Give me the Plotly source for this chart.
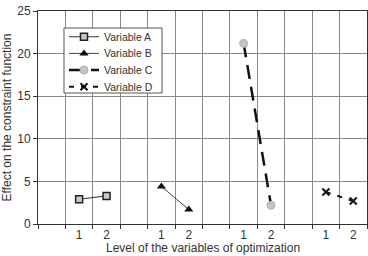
import plotly.graph_objects as go

# Data
level_labels = ["1", "2", "1", "2", "1", "2", "1", "2"]
level_positions = [1, 2, 4, 5, 7, 8, 10, 11]
series_names = ["Variable A", "Variable B", "Variable C", "Variable D"]
var_a = [2.9, 3.3]
var_b = [4.4, 1.7]
var_c = [21.2, 2.2]
var_d = [3.75, 2.7]
y_ticks = [0, 5, 10, 15, 20, 25]
x_title = "Level of the variables of optimization"
y_title = "Effect on the constraint function"

X_RANGE = [-0.5, 11.5]
GRID = "#8a8a8a"
AX = "#333333"
TXT = "#333333"

fig = go.Figure()

fig.add_trace(go.Scatter(
    x=level_positions[0:2], y=var_a, name=series_names[0], mode="lines+markers",
    legend="legend",
    line=dict(color="#333333", width=1),
    marker=dict(symbol="square", size=7, color="#c8c8c8", line=dict(color="#222222", width=1.5))))
fig.add_trace(go.Scatter(
    x=level_positions[2:4], y=var_b, name=series_names[1], mode="lines+markers",
    legend="legend2",
    line=dict(color="#444444", width=1),
    marker=dict(symbol="triangle-up", size=8, color="#111111")))
fig.add_trace(go.Scatter(
    x=level_positions[4:6], y=var_c, name=series_names[2], mode="lines+markers",
    legend="legend3",
    line=dict(color="#111111", width=2.5, dash="14px,8px"),
    marker=dict(symbol="circle", size=8, color="#c4c4c4", line=dict(color="#b0b0b0", width=1))))
fig.add_trace(go.Scatter(
    x=level_positions[6:8], y=var_d, name=series_names[3], mode="lines+markers",
    legend="legend4",
    line=dict(color="#111111", width=2, dash="5px,7px"),
    marker=dict(symbol="x-thin", size=7, color="#111111", line=dict(color="#111111", width=2))))

# legend items at ~16px spacing
legend_x = 0.079
legend_ys = [0.879, 0.801, 0.723, 0.644]
leg_common = dict(x=legend_x, xanchor="left", yanchor="middle", bgcolor="rgba(0,0,0,0)",
                  borderwidth=0, font=dict(size=10.5, color=TXT), itemwidth=30)

fig.update_layout(
    width=368, height=256,
    margin=dict(l=38, r=1, t=11, b=32),
    paper_bgcolor="white", plot_bgcolor="white",
    font=dict(family="Liberation Sans, Arial, sans-serif", size=12, color=TXT),
    showlegend=True,
    legend=dict(y=legend_ys[0], **leg_common),
    legend2=dict(y=legend_ys[1], **leg_common),
    legend3=dict(y=legend_ys[2], **leg_common),
    legend4=dict(y=legend_ys[3], **leg_common),
    shapes=[dict(type="rect", xref="paper", yref="paper", x0=0.079, x1=0.377, y0=0.615, y1=0.920,
                 fillcolor="white", line=dict(color="#555555", width=1), layer="above")],
    annotations=[dict(text=x_title, xref="paper", yref="paper", x=0.5, y=0,
                      xanchor="center", yanchor="middle", yshift=-24, showarrow=False,
                      font=dict(size=12, color=TXT))],
    xaxis=dict(
        range=X_RANGE, tickmode="array", tickvals=level_positions, ticktext=level_labels,
        showgrid=False, zeroline=False, ticks="",
        tickfont=dict(size=12, color=TXT),
        minor=dict(tickmode="linear", tick0=0.5, dtick=1,
                   showgrid=True, gridcolor=GRID, gridwidth=1,
                   ticks="outside", ticklen=4, tickcolor=AX),
        showline=True, linecolor=AX, linewidth=1, mirror=True,
        automargin=False),
    yaxis=dict(
        range=[0, 25], tickmode="array", tickvals=y_ticks,
        showgrid=True, gridcolor=GRID, gridwidth=1, zeroline=False,
        showline=True, linecolor=AX, linewidth=1, mirror=True,
        ticks="outside", ticklen=4, tickcolor=AX,
        tickfont=dict(size=12, color=TXT),
        title=dict(text=y_title, font=dict(size=12, color=TXT)),
        automargin=False),
)

fig.write_html("out.html")
